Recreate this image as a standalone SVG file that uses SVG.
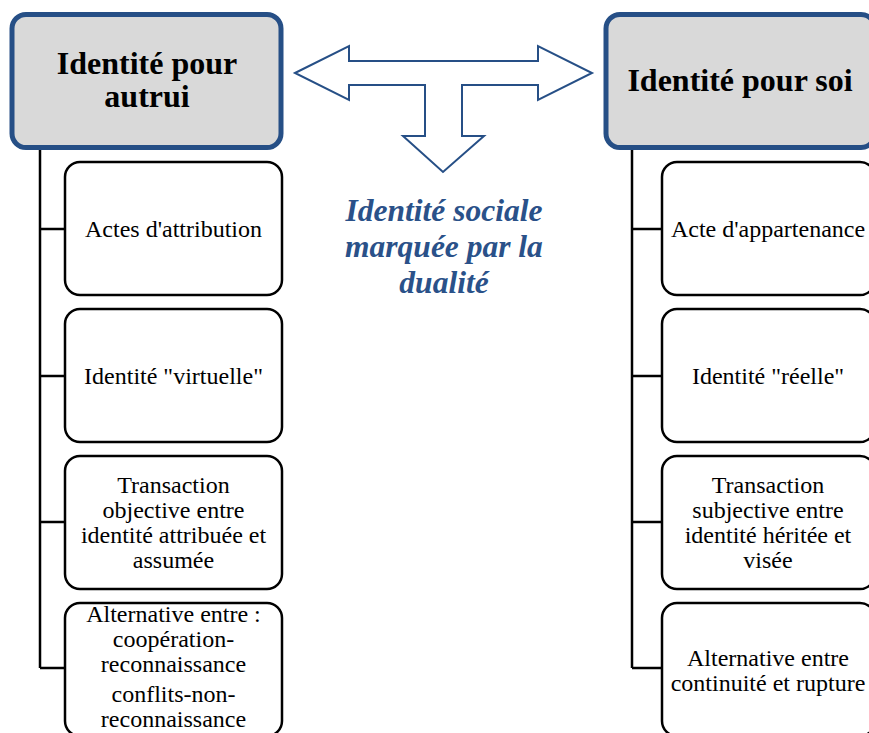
<svg xmlns="http://www.w3.org/2000/svg" width="869" height="733" viewBox="0 0 869 733">
<style>
.hdr{fill:#d9d9d9;stroke:#264f86;stroke-width:5}
.child{fill:#ffffff;stroke:#000000;stroke-width:2.5}
.ht{font-family:"Liberation Serif",serif;font-weight:bold;font-size:32px;fill:#000;text-anchor:middle}
.ct{font-family:"Liberation Serif",serif;font-size:24px;fill:#000;text-anchor:middle}
.mid{font-family:"Liberation Serif",serif;font-weight:bold;font-style:italic;font-size:31.5px;fill:#2a5189;text-anchor:middle}
.conn{fill:none;stroke:#000;stroke-width:2.5}
</style>
<rect width="869" height="733" fill="#ffffff"/>
<g id="connectors">
<path class="conn" d="M40,148 V668 M40,229 H65 M40,376 H65 M40,522 H65 M40,668 H65"/>
<path class="conn" d="M632,148 V668 M632,229 H662 M632,376 H662 M632,522 H662 M632,668 H662"/>
</g>
<g id="arrow">
<polygon points="295,73 349,46 349,61 538,61 538,46 592,73 538,100 538,85 462,85 462,136 484,136 443,172 403,136 425,136 425,85 349,85 349,100" fill="#ffffff" stroke="#264f86" stroke-width="2"/>
</g>
<g id="center-label">
<text class="mid" x="444" y="221">Identité sociale</text>
<text class="mid" x="444" y="257">marquée par la</text>
<text class="mid" x="444" y="293">dualité</text>
</g>
<g id="hdr-autrui">
<rect class="hdr" x="12" y="14.5" width="269" height="133" rx="14"/>
<text class="ht" x="147" y="74">Identité pour</text>
<text class="ht" x="147" y="107">autrui</text>
</g>
<g id="hdr-soi">
<rect class="hdr" x="606" y="14.5" width="269" height="133" rx="14"/>
<text class="ht" x="740" y="91">Identité pour soi</text>
</g>
<g id="l1">
<rect class="child" x="65" y="162" width="217" height="133" rx="15"/>
<text class="ct" x="173.5" y="237">Actes d'attribution</text>
</g>
<g id="l2">
<rect class="child" x="65" y="309" width="217" height="133" rx="15"/>
<text class="ct" x="173.5" y="384">Identité "virtuelle"</text>
</g>
<g id="l3">
<rect class="child" x="65" y="456" width="217" height="133" rx="15"/>
<text class="ct" x="173.5" y="493">Transaction</text>
<text class="ct" x="173.5" y="518">objective entre</text>
<text class="ct" x="173.5" y="543">identité attribuée et</text>
<text class="ct" x="173.5" y="568">assumée</text>
</g>
<g id="l4">
<rect class="child" x="65" y="603" width="217" height="133" rx="15"/>
<text class="ct" x="173.5" y="622">Alternative entre :</text>
<text class="ct" x="173.5" y="647">coopération-</text>
<text class="ct" x="173.5" y="672">reconnaissance</text>
<text class="ct" x="173.5" y="702">conflits-non-</text>
<text class="ct" x="173.5" y="727">reconnaissance</text>
</g>
<g id="r1">
<rect class="child" x="662" y="162" width="213" height="133" rx="15"/>
<text class="ct" x="768" y="237">Acte d'appartenance</text>
</g>
<g id="r2">
<rect class="child" x="662" y="309" width="213" height="133" rx="15"/>
<text class="ct" x="768" y="384">Identité "réelle"</text>
</g>
<g id="r3">
<rect class="child" x="662" y="456" width="213" height="133" rx="15"/>
<text class="ct" x="768" y="493">Transaction</text>
<text class="ct" x="768" y="518">subjective entre</text>
<text class="ct" x="768" y="543">identité héritée et</text>
<text class="ct" x="768" y="568">visée</text>
</g>
<g id="r4">
<rect class="child" x="662" y="603" width="213" height="133" rx="15"/>
<text class="ct" x="768" y="666">Alternative entre</text>
<text class="ct" x="768" y="691">continuité et rupture</text>
</g>
</svg>
